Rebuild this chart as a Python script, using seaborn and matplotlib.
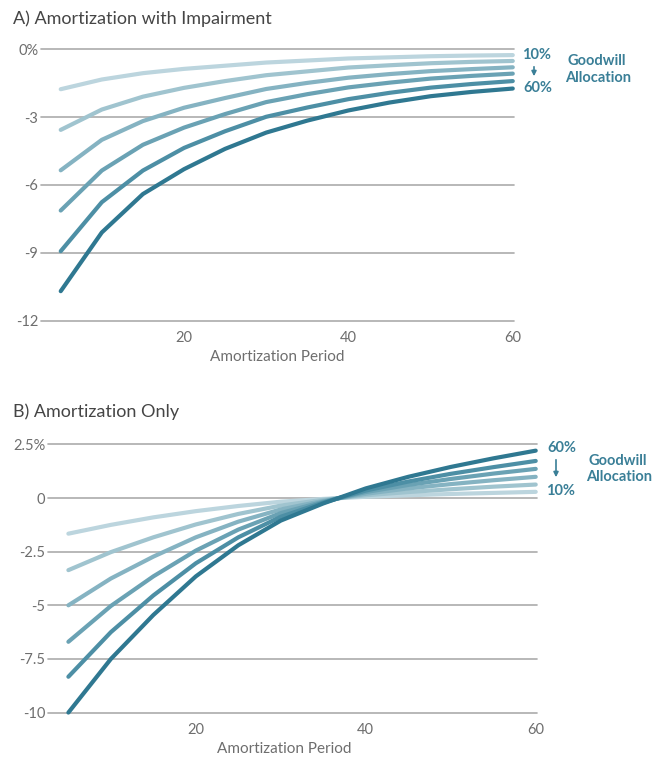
import numpy as np
import pandas as pd
import seaborn as sns
import matplotlib
matplotlib.use("Agg")
import matplotlib.pyplot as plt

# ---------------- data ----------------
years = [5, 10, 15, 20, 25, 30, 35, 40, 45, 50, 55, 60]
allocations = ["10%", "20%", "30%", "40%", "50%", "60%"]

# Panel A: Amortization with Impairment (% change)
imp_10 = [-1.76, -1.33, -1.05, -0.86, -0.72, -0.58, -0.49, -0.40, -0.35, -0.30, -0.27, -0.25]
imp_20 = [-3.56, -2.66, -2.09, -1.70, -1.40, -1.14, -0.97, -0.80, -0.70, -0.61, -0.55, -0.51]
imp_30 = [-5.35, -4.00, -3.17, -2.58, -2.15, -1.75, -1.48, -1.25, -1.09, -0.96, -0.87, -0.79]
imp_40 = [-7.13, -5.36, -4.22, -3.46, -2.86, -2.33, -1.98, -1.68, -1.47, -1.29, -1.17, -1.07]
imp_50 = [-8.93, -6.76, -5.36, -4.36, -3.62, -2.98, -2.57, -2.20, -1.92, -1.69, -1.53, -1.40]
imp_60 = [-10.70, -8.10, -6.40, -5.30, -4.40, -3.68, -3.15, -2.70, -2.35, -2.07, -1.88, -1.73]

# Panel B: Amortization Only (% change)
amo_10 = [-1.66, -1.25, -0.90, -0.61, -0.37, -0.17, -0.04, 0.06, 0.13, 0.19, 0.24, 0.29]
amo_20 = [-3.36, -2.52, -1.83, -1.23, -0.74, -0.35, -0.08, 0.13, 0.28, 0.41, 0.53, 0.63]
amo_30 = [-5.00, -3.75, -2.73, -1.83, -1.10, -0.53, -0.13, 0.20, 0.45, 0.65, 0.83, 0.99]
amo_40 = [-6.70, -5.03, -3.65, -2.45, -1.47, -0.70, -0.17, 0.28, 0.61, 0.89, 1.14, 1.36]
amo_50 = [-8.33, -6.25, -4.54, -3.04, -1.83, -0.87, -0.21, 0.35, 0.77, 1.13, 1.44, 1.73]
amo_60 = [-10.00, -7.50, -5.45, -3.65, -2.20, -1.05, -0.25, 0.45, 0.99, 1.45, 1.85, 2.21]

ticks_a = [0, -3, -6, -9, -12]
ticklabels_a = ["0%", "-3", "-6", "-9", "-12"]
ticks_b = [2.5, 0, -2.5, -5, -7.5, -10]
ticklabels_b = ["2.5%", "0", "-2.5", "-5", "-7.5", "-10"]
xticks = [20, 40, 60]

colors = ["#bcd5de", "#a0c4cf", "#85b3c2", "#6aa2b4", "#4d8fa5", "#2f7891"]
text_teal = "#3a7f97"
grid_c = "#ababab"
tick_c = "#6e6e6e"

def long_df(series):
    rows = []
    for lab, vals in zip(allocations, series):
        for y, v in zip(years, vals):
            rows.append({"Amortization Period": y, "value": v, "alloc": lab})
    return pd.DataFrame(rows)

df_a = long_df([imp_10, imp_20, imp_30, imp_40, imp_50, imp_60])
df_b = long_df([amo_10, amo_20, amo_30, amo_40, amo_50, amo_60])

# ---------------- style ----------------
sns.set_style("white")
plt.rcParams["font.family"] = ["Lato", "DejaVu Sans"]

W, H = 663, 759
fig = plt.figure(figsize=(W / 100, H / 100), dpi=100)

def px_rect(l, t, r, b):
    return [l / W, 1 - b / H, (r - l) / W, (b - t) / H]

ax_a = fig.add_axes(px_rect(41, 49, 514, 321))
ax_b = fig.add_axes(px_rect(48, 444, 537, 713))

def style(ax, df, yt, ytl, ylim, xlabel_x):
    sns.lineplot(data=df, x="Amortization Period", y="value", hue="alloc",
                 hue_order=allocations, palette=colors, linewidth=3.0,
                 legend=False, ax=ax, solid_capstyle="round",
                 solid_joinstyle="round", clip_on=False, zorder=3)
    ax.set_xlim(2.6, 60.15)
    ax.set_ylim(*ylim)
    ax.set_yticks(yt)
    ax.set_yticklabels(ytl)
    ax.set_xticks(xticks)
    ax.set_xticklabels([str(x) for x in xticks])
    for s in ax.spines.values():
        s.set_visible(False)
    ax.grid(False)
    for y in yt:
        ax.axhline(y, color=grid_c, lw=1.2, zorder=1, clip_on=False)
    ax.tick_params(axis="both", length=0, colors=tick_c, labelsize=10.5)
    ax.tick_params(axis="y", pad=2)
    ax.tick_params(axis="x", pad=7)
    ax.set_ylabel("")
    ax.set_xlabel("Amortization Period", fontsize=11, color=tick_c)
    ax.xaxis.set_label_coords(xlabel_x, -0.107)

style(ax_a, df_a, ticks_a, ticklabels_a, (-12.02, 0.02), 0.5)
style(ax_b, df_b, ticks_b, ticklabels_b, (-10.02, 2.52), 0.483)

def ftext(x, y, s, **kw):
    fig.text(x / W, 1 - y / H, s, **kw)

# titles
ftext(13, 19, "A) Amortization with Impairment", fontsize=13, color="#454545",
      ha="left", va="center")
ftext(13, 412, "B) Amortization Only", fontsize=13, color="#454545",
      ha="left", va="center")

akw = dict(fontsize=10.5, color=text_teal, fontweight="bold", va="center")

def arrow(x, y0, y1):
    fig.add_artist(matplotlib.patches.FancyArrowPatch(
        (x / W, 1 - y0 / H), (x / W, 1 - y1 / H), transform=fig.transFigure,
        arrowstyle="-|>", mutation_scale=7, color=text_teal, lw=1.2))

# panel A annotation
ftext(537, 55, "10%", ha="center", **akw)
arrow(534, 64, 79)
ftext(538, 88, "60%", ha="center", **akw)
ftext(597, 61, "Goodwill", ha="center", **akw)
ftext(598, 78, "Allocation", ha="center", **akw)

# panel B annotation
ftext(562, 448, "60%", ha="center", **akw)
arrow(556, 457, 480)
ftext(561, 491, "10%", ha="center", **akw)
ftext(618, 461, "Goodwill", ha="center", **akw)
ftext(619, 477, "Allocation", ha="center", **akw)

fig.savefig("out.png", dpi=100)
